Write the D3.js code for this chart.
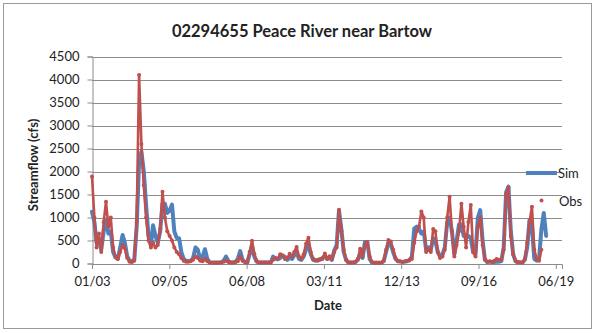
<!DOCTYPE html>
<html>
<head>
<meta charset="utf-8">
<script src="https://cdn.jsdelivr.net/npm/d3@7"></script>
<style>
  html, body { margin: 0; padding: 0; background: #fff; }
  svg { display: block; }
  text { font-family: Lato, "Liberation Sans", sans-serif; fill: #222; }
</style>
</head>
<body>
<svg id="chart" width="595" height="333"></svg>
<script>
// ---- data (monthly readings, starting January 2003) ----
const title = "02294655 Peace River near Bartow";
const yLabel = "Streamflow (cfs)";
const xLabel = "Date";
const seriesNames = ["Sim", "Obs"];
const startYear = 2003, startMonth = 0;
const axisStart = "2003-01-01";
const axisEndDays = 6080;            // axis extent in days from start
const tickStepDays = 1000;           // date axis major unit
const yTicks = [0, 500, 1000, 1500, 2000, 2500, 3000, 3500, 4000, 4500];

const simValues = [
  1126, 900, 450, 500, 300, 700, 950, 650, 700, 250, 130, 100,
  350, 620, 450, 150, 60, 50, 80, 800, 2200, 2430, 2000, 1270,
  600, 400, 830, 600, 450, 700, 1300, 1300, 1100, 1150, 1280, 700,
  550, 550, 250, 100, 60, 50, 60, 120, 350, 300, 80, 150,
  310, 100, 30, 20, 20, 20, 20, 30, 60, 150, 50, 20,
  20, 40, 100, 270, 80, 30, 20, 200, 380, 150, 40, 20,
  20, 20, 20, 20, 20, 150, 100, 90, 120, 160, 150, 80,
  120, 100, 180, 250, 100, 80, 150, 300, 420, 200, 80, 60,
  80, 80, 120, 170, 100, 120, 80, 280, 400, 1160, 750, 250,
  80, 20, 20, 20, 30, 80, 200, 120, 470, 470, 100, 20,
  15, 15, 15, 15, 50, 250, 450, 420, 250, 100, 50, 40,
  30, 40, 50, 70, 150, 760, 800, 750, 650, 700, 300, 350,
  300, 550, 500, 250, 150, 200, 350, 900, 1000, 700, 200, 500,
  850, 850, 600, 580, 600, 550, 250, 200, 1000, 1160, 500, 80,
  30, 40, 30, 30, 40, 40, 50, 350, 1550, 1670, 700, 200,
  50, 20, 20, 20, 80, 350, 950, 800, 100, 60, 100, 730,
  1100, 600
];

const obsValues = [
  1890, 1000, 350, 650, 250, 900, 1340, 800, 1000, 350, 150, 100,
  250, 400, 330, 120, 40, 30, 60, 900, 4100, 2600, 1700, 1000,
  500, 350, 450, 350, 400, 750, 1560, 1000, 700, 600, 500, 350,
  250, 200, 120, 60, 40, 40, 50, 80, 150, 120, 60, 50,
  100, 50, 20, 15, 15, 15, 15, 20, 40, 60, 30, 20,
  20, 30, 50, 150, 60, 30, 20, 250, 496, 200, 50, 20,
  20, 20, 20, 20, 20, 80, 120, 110, 200, 180, 100, 120,
  210, 150, 250, 360, 150, 100, 200, 430, 560, 250, 100, 70,
  60, 100, 100, 220, 100, 160, 100, 250, 350, 1170, 700, 300,
  80, 20, 20, 20, 40, 100, 320, 150, 400, 470, 150, 30,
  15, 15, 15, 15, 60, 300, 510, 480, 300, 120, 60, 50,
  40, 50, 60, 80, 100, 450, 700, 800, 1130, 1000, 250, 300,
  250, 750, 700, 250, 120, 150, 300, 1000, 1450, 700, 150, 400,
  700, 1300, 800, 350, 900, 1270, 250, 150, 800, 1000, 400, 100,
  40, 50, 40, 60, 100, 80, 80, 300, 1500, 1650, 600, 200,
  60, 30, 20, 20, 100, 450, 900, 1235, 300, 100, 60, 300
];

// ---- layout ----
const svg = d3.select("#chart");
const W = 595, H = 333;
const plot = { left: 92, top: 56.5, right: 562, bottom: 263.5 };
const simColor = "#4F81BD", obsColor = "#C0504D", gridColor = "#8c8c8c";

svg.append("rect").attr("x", 0).attr("y", 0).attr("width", W).attr("height", H).attr("fill", "#fff");
svg.append("rect").attr("x", 3.5).attr("y", 3.5).attr("width", 588).attr("height", 325)
  .attr("fill", "none").attr("stroke", "#9a9a9a").attr("stroke-width", 1);

const t0 = new Date(axisStart + "T00:00:00");
const dayMs = 86400000;
const x = d3.scaleTime()
  .domain([t0, new Date(t0.getTime() + axisEndDays * dayMs)])
  .range([plot.left, plot.right]);
const y = d3.scaleLinear().domain([0, 4500]).range([plot.bottom, plot.top]);

const dateOf = i => new Date(startYear, startMonth + i, 1);
const sim = simValues.map((v, i) => ({ d: dateOf(i), v }));
const obs = obsValues.map((v, i) => ({ d: dateOf(i), v }));

// gridlines
svg.append("g").selectAll("line").data(yTicks.filter(t => t > 0)).join("line")
  .attr("x1", plot.left).attr("x2", plot.right)
  .attr("y1", d => Math.round(y(d)) + 0.5).attr("y2", d => Math.round(y(d)) + 0.5)
  .attr("stroke", gridColor).attr("stroke-width", 1);

// y axis
const yAxis = svg.append("g").attr("transform", `translate(${plot.left + 0.5},0)`)
  .call(d3.axisLeft(y).tickValues(yTicks).tickSize(5).tickPadding(8).tickFormat(d3.format("d")));
yAxis.select(".domain").attr("stroke", gridColor);
yAxis.selectAll(".tick line").attr("stroke", gridColor);
yAxis.selectAll("text").style("font-size", "13px").attr("fill", "#222");

// x axis
const xTickVals = d3.range(0, axisEndDays + 1, tickStepDays).map(k => new Date(t0.getTime() + k * dayMs));
const xAxis = svg.append("g").attr("transform", `translate(0,${plot.bottom + 0.5})`)
  .call(d3.axisBottom(x).tickValues(xTickVals).tickSize(5).tickPadding(8).tickFormat(d3.timeFormat("%m/%y")));
xAxis.select(".domain").attr("stroke", gridColor);
xAxis.selectAll(".tick line").attr("stroke", gridColor);
xAxis.selectAll("text").style("font-size", "13px").attr("fill", "#222");

// series: Sim line
svg.append("path").datum(sim)
  .attr("fill", "none").attr("stroke", simColor).attr("stroke-width", 4)
  .attr("stroke-linejoin", "round").attr("stroke-linecap", "round")
  .attr("d", d3.line().x(d => x(d.d)).y(d => y(d.v)));

// series: Obs markers
svg.append("path").datum(obs)
  .attr("fill", "none").attr("stroke", obsColor).attr("stroke-width", 2.6)
  .attr("stroke-linejoin", "round")
  .attr("d", d3.line().x(d => x(d.d)).y(d => y(d.v)));
svg.append("g").selectAll("circle").data(obs).join("circle")
  .attr("cx", d => x(d.d)).attr("cy", d => y(d.v)).attr("r", 2)
  .attr("fill", obsColor);

// titles
svg.append("text").attr("x", 302).attr("y", 37).attr("text-anchor", "middle")
  .style("font-size", "16.5px").style("font-weight", "bold").text(title);
svg.append("text").attr("transform", "translate(38,165) rotate(-90)").attr("text-anchor", "middle")
  .style("font-size", "13px").style("font-weight", "bold").text(yLabel);
svg.append("text").attr("x", 328).attr("y", 310).attr("text-anchor", "middle")
  .style("font-size", "13px").style("font-weight", "bold").text(xLabel);

// legend
const lg = svg.append("g");
lg.append("line").attr("x1", 526).attr("x2", 557).attr("y1", 173).attr("y2", 173)
  .attr("stroke", simColor).attr("stroke-width", 4);
lg.append("text").attr("x", 558).attr("y", 177.5).style("font-size", "13px").text(seriesNames[0]);
lg.append("circle").attr("cx", 541.5).attr("cy", 200.5).attr("r", 2).attr("fill", obsColor);
lg.append("text").attr("x", 559).attr("y", 205.5).style("font-size", "13px").text(seriesNames[1]);
</script>
</body>
</html>
